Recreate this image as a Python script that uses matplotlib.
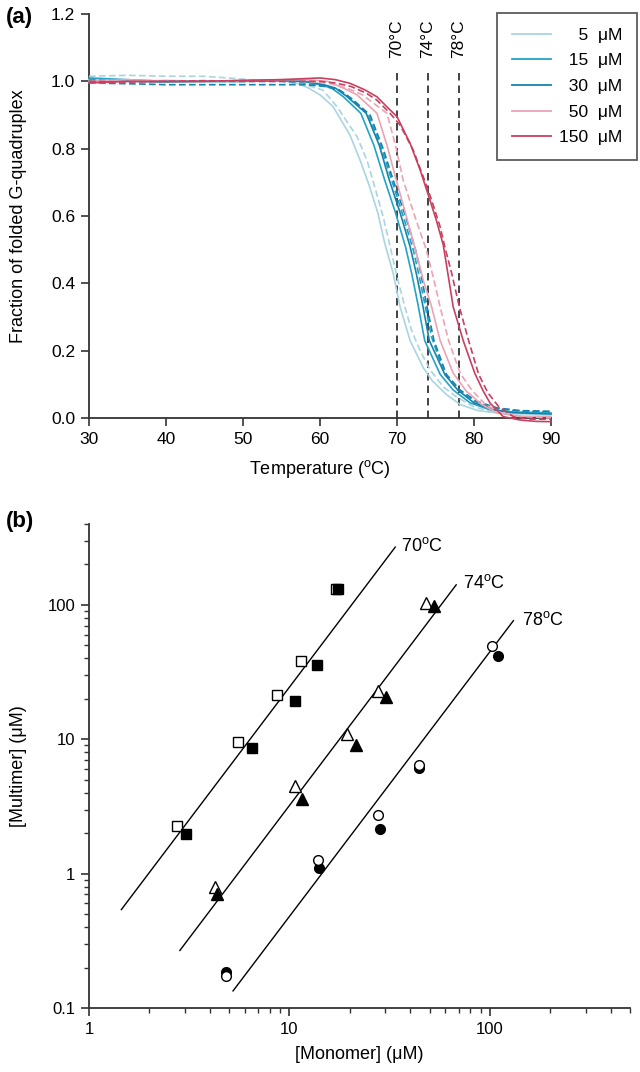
import matplotlib
matplotlib.use("Agg")
import matplotlib.pyplot as plt
from matplotlib.lines import Line2D

plt.rcParams['font.family'] = ['Liberation Sans', 'DejaVu Sans']
plt.rcParams['mathtext.fontset'] = 'custom'
plt.rcParams['mathtext.rm'] = 'Liberation Sans'

# ---------------- Panel (a) data: melting curves ----------------
conc_labels = ['5', '15', '30', '50', '150']
conc_colors = ['#a9d5e1', '#22a3c7', '#1583ad', '#eba4b4', '#c8405f']

t5_solid = [30, 35, 40, 45, 50, 55, 57, 58.5, 60, 61.7, 63.9, 65.3, 66.4, 67.5, 68.4, 69.5, 70.4, 71.7, 73.4, 74.6, 76.4, 78.2, 80.5, 83, 86, 90]
f5_solid = [1.005, 1.0, 1.003, 1.0, 1.0, 1.002, 0.995, 0.98, 0.96, 0.925, 0.84, 0.76, 0.69, 0.61, 0.52, 0.43, 0.33, 0.23, 0.15, 0.11, 0.07, 0.04, 0.022, 0.015, 0.012, 0.01]
t5_dash = [30, 35, 40, 45, 48, 52, 55, 58, 60.4, 62.2, 64.8, 66.1, 67.1, 68.2, 69.0, 69.9, 70.9, 71.9, 73.0, 74.3, 76.0, 77.7, 79.9, 82, 86, 90]
f5_dash = [1.015, 1.018, 1.015, 1.015, 1.01, 1.003, 1.0, 0.99, 0.974, 0.925, 0.836, 0.766, 0.687, 0.598, 0.52, 0.43, 0.34, 0.26, 0.20, 0.143, 0.093, 0.063, 0.034, 0.02, 0.015, 0.012]

t15_solid = [30, 35, 40, 45, 50, 55, 58, 60, 61.5, 63, 65.3, 67.0, 68.4, 69.8, 71.1, 71.9, 72.7, 73.6, 75.6, 77.3, 79.5, 82, 85, 90]
f15_solid = [1.01, 1.005, 1.0, 1.0, 1.0, 1.003, 1.0, 0.99, 0.98, 0.955, 0.905, 0.81, 0.707, 0.61, 0.509, 0.43, 0.34, 0.23, 0.13, 0.083, 0.045, 0.025, 0.018, 0.015]
t15_dash = [30, 35, 40, 45, 50, 55, 58, 60.5, 62.5, 64, 66.3, 68.0, 69.4, 70.8, 72.1, 72.8, 73.6, 74.5, 76.2, 77.9, 80, 82.5, 86, 90]
f15_dash = [1.005, 1.0, 1.0, 1.0, 1.0, 1.0, 0.995, 0.985, 0.975, 0.95, 0.9, 0.8, 0.7, 0.6, 0.5, 0.43, 0.34, 0.24, 0.13, 0.083, 0.05, 0.028, 0.02, 0.018]

t30_solid = [30, 35, 40, 45, 50, 55, 58, 60.5, 62, 63.5, 66.0, 67.7, 69.0, 70.4, 71.7, 72.5, 73.3, 74.2, 76.2, 77.9, 80, 82.5, 85, 90]
f30_solid = [1.0, 1.0, 0.998, 1.0, 1.0, 1.002, 1.0, 0.99, 0.98, 0.955, 0.905, 0.81, 0.707, 0.61, 0.509, 0.43, 0.34, 0.23, 0.13, 0.083, 0.045, 0.025, 0.016, 0.012]
t30_dash = [30, 35, 40, 45, 50, 55, 58, 61, 62.8, 64.3, 66.5, 68.2, 69.6, 71.1, 72.4, 73.1, 73.9, 74.8, 76.4, 78.2, 80.3, 83, 86, 90]
f30_dash = [0.995, 0.993, 0.99, 0.99, 0.99, 0.99, 0.99, 0.985, 0.97, 0.945, 0.9, 0.8, 0.7, 0.6, 0.5, 0.43, 0.33, 0.23, 0.13, 0.083, 0.05, 0.03, 0.022, 0.02]

t50_solid = [30, 35, 40, 45, 50, 55, 58, 61, 63, 64.8, 67.4, 68.7, 69.9, 71.2, 72.4, 73.4, 74.5, 75.6, 77.3, 79, 81, 83, 86, 90]
f50_solid = [1.0, 1.005, 1.0, 1.0, 1.002, 1.005, 1.005, 1.0, 0.98, 0.96, 0.905, 0.81, 0.707, 0.6, 0.5, 0.41, 0.33, 0.23, 0.133, 0.08, 0.04, 0.015, 0.005, 0.005]
t50_dash = [30, 35, 40, 45, 50, 55, 58, 61, 63.5, 65.5, 68.7, 69.8, 70.8, 72.3, 73.8, 74.8, 75.6, 76.7, 78.2, 79.8, 81.5, 83.5, 86, 90]
f50_dash = [0.995, 1.0, 1.0, 1.0, 1.0, 1.0, 1.0, 0.995, 0.98, 0.96, 0.905, 0.81, 0.707, 0.6, 0.5, 0.41, 0.33, 0.23, 0.133, 0.08, 0.04, 0.015, 0.005, 0.0]

t150_solid = [30, 35, 40, 45, 50, 55, 60, 62, 63.9, 65.8, 67.4, 69.1, 70.0, 71.7, 73.0, 74.0, 75.1, 76.0, 76.6, 77.3, 78.6, 80.1, 81.2, 82.1, 83.8, 86, 88, 90]
f150_solid = [0.995, 1.0, 1.0, 1.0, 1.003, 1.005, 1.01, 1.005, 0.994, 0.975, 0.954, 0.915, 0.895, 0.816, 0.737, 0.667, 0.588, 0.515, 0.43, 0.33, 0.23, 0.133, 0.08, 0.044, 0.004, -0.006, -0.01, -0.011]
t150_dash = [30, 35, 40, 45, 50, 55, 60, 62, 64, 66, 67.4, 69.1, 70.4, 72.1, 73.4, 74.5, 75.6, 76.2, 77.1, 78.1, 79.3, 80.6, 81.8, 83.2, 85.1, 87, 90]
f150_dash = [1.0, 0.998, 1.0, 1.002, 1.0, 1.0, 1.0, 0.995, 0.985, 0.965, 0.944, 0.905, 0.87, 0.796, 0.717, 0.647, 0.568, 0.509, 0.43, 0.33, 0.23, 0.13, 0.075, 0.034, 0.004, -0.003, -0.004]

solid_t = [t5_solid, t15_solid, t30_solid, t50_solid, t150_solid]
solid_f = [f5_solid, f15_solid, f30_solid, f50_solid, f150_solid]
dash_t = [t5_dash, t15_dash, t30_dash, t50_dash, t150_dash]
dash_f = [f5_dash, f15_dash, f30_dash, f50_dash, f150_dash]

ref_temps = [70, 74, 78]
xticks_a = [30, 40, 50, 60, 70, 80, 90]
yticks_a = [0.0, 0.2, 0.4, 0.6, 0.8, 1.0, 1.2]

# ---------------- Panel (b) data ----------------
sq_open_x = [2.75, 5.54, 8.68, 11.4, 17.0]
sq_open_y = [2.26, 9.5, 21.4, 38.5, 132]
sq_fill_x = [3.05, 6.53, 10.7, 13.8, 17.5]
sq_fill_y = [1.96, 8.56, 19.3, 35.9, 132]
tri_open_x = [4.27, 10.6, 19.4, 27.6, 48.1]
tri_open_y = [0.794, 4.49, 11.0, 23.0, 103]
tri_fill_x = [4.37, 11.6, 21.5, 30.2, 52.8]
tri_fill_y = [0.70, 3.61, 9.0, 20.5, 98.3]
cir_open_x = [4.85, 13.9, 27.6, 44.2, 102]
cir_open_y = [0.173, 1.27, 2.74, 6.42, 49.3]
cir_fill_x = [4.85, 14.1, 28.2, 44.4, 110]
cir_fill_y = [0.185, 1.096, 2.16, 6.06, 41.7]

fit70_x = [1.45, 33.7]
fit70_y = [0.54, 269]
fit74_x = [2.84, 67.9]
fit74_y = [0.268, 141]
fit78_x = [5.23, 131]
fit78_y = [0.134, 76.3]
fit_label_x = [36.2, 73.5, 145]
fit_label_y = [274, 145, 77.1]
fit_labels = ['70', '74', '78']

W, H = 640, 1072
fig = plt.figure(figsize=(W / 100, H / 100), dpi=100)

spine_col = '#333333'

# ================= Panel (a) =================
ax1 = fig.add_axes([89 / W, 1 - 418 / H, (551 - 89) / W, (418 - 14) / H])
for i in range(5):
    ax1.plot(solid_t[i], solid_f[i], color=conc_colors[i], lw=1.2, clip_on=False, zorder=3)
    ax1.plot(dash_t[i], dash_f[i], color=conc_colors[i], lw=1.2, ls=(0, (4, 2)), clip_on=False, zorder=3)
for T in ref_temps:
    ax1.plot([T, T], [0, 1.035], color='#222222', lw=1.2, ls=(0, (4.5, 3)), zorder=2)
    ax1.text(T, 1.07, f'{T}°C', rotation=90, ha='center', va='bottom', fontsize=12.5)

ax1.set_xlim(30, 90)
ax1.set_ylim(0, 1.2)
ax1.set_xticks(xticks_a)
ax1.set_yticks(yticks_a)
ax1.set_yticklabels([f'{v:.1f}' for v in yticks_a])
ax1.spines['top'].set_visible(False)
ax1.spines['right'].set_visible(False)
for s in ['left', 'bottom']:
    ax1.spines[s].set_color(spine_col)
    ax1.spines[s].set_linewidth(1.3)
ax1.tick_params(direction='out', length=6, width=1.2, color=spine_col, labelsize=12.5, pad=4)
ax1.set_xlabel(r'Temperature ($^{\rm o}$C)', fontsize=13)
ax1.set_ylabel('Fraction of folded G-quadruplex', fontsize=13)
ax1.xaxis.set_label_coords(0.5, -0.1)
ax1.yaxis.set_label_coords(-0.134, 0.5)

handles = [Line2D([], [], color=c, lw=1.3) for c in conc_colors]
pad_labels = []
for lab in conc_labels:
    pad = '  ' * (3 - len(lab))
    pad_labels.append(f'{pad}{lab}  μM')
leg = ax1.legend(handles, pad_labels, loc='upper right',
                 bbox_to_anchor=(637 / W, 1 - 13 / H), bbox_transform=fig.transFigure,
                 borderaxespad=0, frameon=True, fancybox=False, fontsize=12.5,
                 handlelength=2.25, handletextpad=0.45, labelspacing=0.6,
                 borderpad=0.85)
leg.get_frame().set_edgecolor('#333333')
leg.get_frame().set_linewidth(1.3)

fig.text(6 / W, 1 - 18 / H, '(a)', fontsize=16, fontweight='bold', va='center', ha='left')

# ================= Panel (b) =================
ax2 = fig.add_axes([89 / W, 1 - 1008 / H, (630 - 89) / W, (1008 - 524) / H])
ax2.set_xscale('log')
ax2.set_yscale('log')
ax2.plot(fit70_x, fit70_y, color='black', lw=1.0)
ax2.plot(fit74_x, fit74_y, color='black', lw=1.0)
ax2.plot(fit78_x, fit78_y, color='black', lw=1.0)
for lx, ly, lab in zip(fit_label_x, fit_label_y, fit_labels):
    ax2.text(lx, ly, lab + r'$^{\rm o}$C', fontsize=13, ha='left', va='center')

ms = 7
ax2.plot(sq_open_x, sq_open_y, ls='none', marker='s', ms=ms, mfc='white', mec='black', mew=1.0, zorder=3)
ax2.plot(sq_fill_x, sq_fill_y, ls='none', marker='s', ms=ms, mfc='black', mec='black', zorder=4)
ax2.plot(tri_open_x, tri_open_y, ls='none', marker='^', ms=ms + 1.5, mfc='white', mec='black', mew=1.0, zorder=3)
ax2.plot(tri_fill_x, tri_fill_y, ls='none', marker='^', ms=ms + 1.5, mfc='black', mec='black', zorder=4)
ax2.plot(cir_fill_x, cir_fill_y, ls='none', marker='o', ms=ms, mfc='black', mec='black', zorder=3)
ax2.plot(cir_open_x, cir_open_y, ls='none', marker='o', ms=ms, mfc='white', mec='black', mew=1.0, zorder=4)

ax2.set_xlim(1, 500)
ax2.set_ylim(0.1, 400)
ax2.set_xticks([1, 10, 100])
ax2.set_xticklabels(['1', '10', '100'])
ax2.set_yticks([0.1, 1, 10, 100])
ax2.set_yticklabels(['0.1', '1', '10', '100'])
ax2.spines['top'].set_visible(False)
ax2.spines['right'].set_visible(False)
for s in ['left', 'bottom']:
    ax2.spines[s].set_color(spine_col)
    ax2.spines[s].set_linewidth(1.3)
ax2.tick_params(which='major', direction='out', length=6, width=1.2, color=spine_col, labelsize=12, pad=4)
ax2.tick_params(which='minor', direction='out', length=3.5, width=1.0, color=spine_col)
ax2.set_xlabel('[Monomer] (μM)', fontsize=13)
ax2.set_ylabel('[Multimer] (μM)', fontsize=13)
ax2.xaxis.set_label_coords(0.5, -0.078)
ax2.yaxis.set_label_coords(-0.115, 0.5)

fig.text(6 / W, 1 - 522 / H, '(b)', fontsize=16, fontweight='bold', va='center', ha='left')

fig.savefig('out.png', dpi=100)
